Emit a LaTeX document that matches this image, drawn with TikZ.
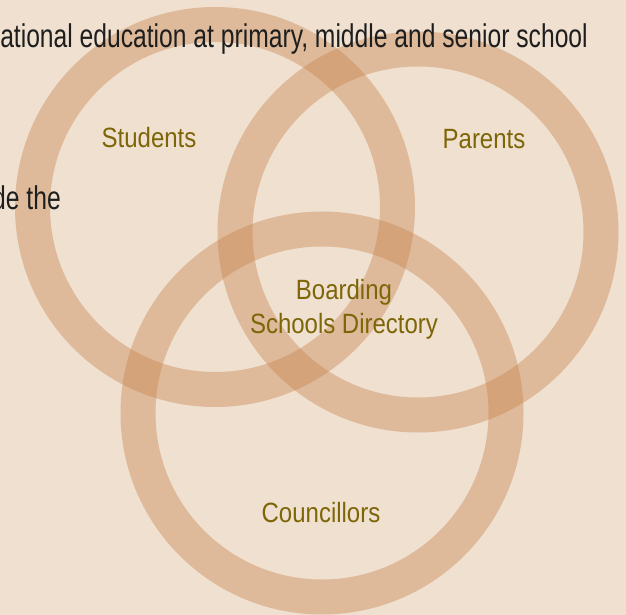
\documentclass[tikz,border=0pt]{standalone}
\usepackage{fontspec}
\setmainfont{Liberation Sans}
\newfontfamily\condfont[FakeStretch=0.75]{Liberation Sans}
\newfontfamily\labfont[FakeStretch=0.86]{Liberation Sans}
\definecolor{bgc}{HTML}{F0E0D0}
\definecolor{ringc}{HTML}{C5814A}
\definecolor{labc}{HTML}{7D6608}
\definecolor{bodyc}{HTML}{1E1E1E}
\tikzset{
  ring/.style={draw=ringc, line width=35bp, draw opacity=0.4},
  bodytext/.style={text=bodyc, inner sep=0pt, anchor=base east, font=\condfont\fontsize{33}{33}\selectfont},
  lab/.style={text=labc, inner sep=0pt, anchor=base, align=center, font=\labfont\fontsize{28}{34}\selectfont}
}
\begin{document}
\begin{tikzpicture}[x=1bp,y=-1bp]
\useasboundingbox (0,0) rectangle (626,615);
\fill[bgc] (0,0) rectangle (626,615);
\clip (0,0) rectangle (626,615);
\draw[ring] (215,207) circle[radius=182.5bp];
\draw[ring] (418,232) circle[radius=183bp];
\draw[ring] (322,413) circle[radius=184bp];
\node[bodytext] (line1) at (588,48) {ational education at primary, middle and senior school};
\node[bodytext] (line2) at (61,209) {de the};
\node[lab] (students) at (149,148) {Students};
\node[lab] (parents) at (484,149) {Parents};
\node[lab] (board) at (344,299) {Boarding};
\node[lab] (dir) at (344,333) {Schools Directory};
\node[lab] (coun) at (321,522) {Councillors};
\end{tikzpicture}
\end{document}
